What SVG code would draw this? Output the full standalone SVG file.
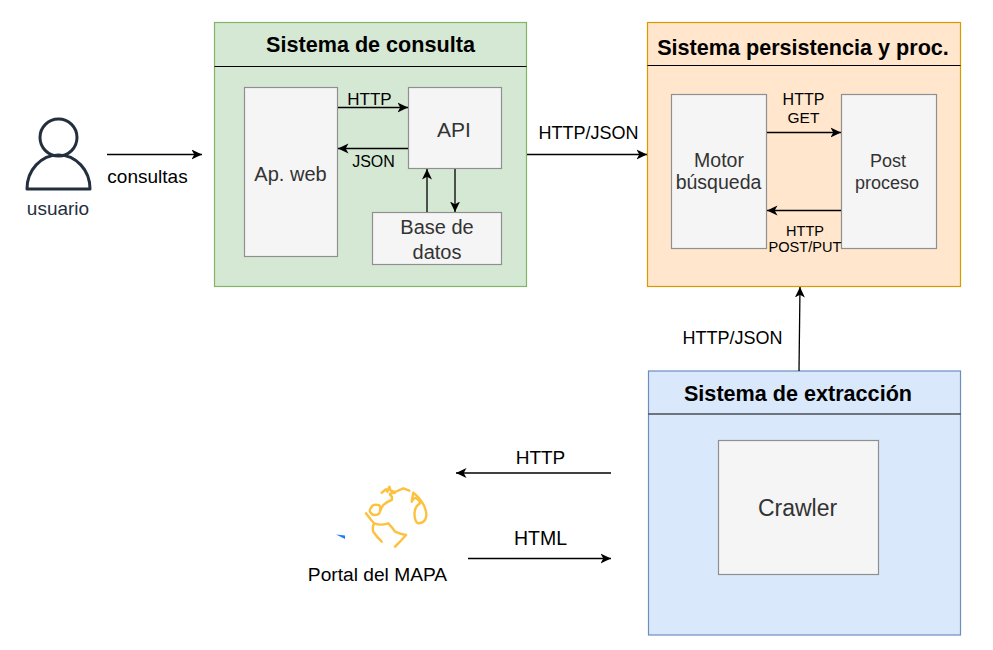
<svg xmlns="http://www.w3.org/2000/svg" width="993" height="650" viewBox="0 0 993 650">
<style>
text{font-family:"Liberation Sans",Arial,sans-serif;text-anchor:middle;fill:#000}
.t{font-size:21.600px;font-weight:bold}
.in{fill:#f5f5f5;stroke:#8f8f8f;stroke-width:1.2}
.g{fill:#333}
.c{fill:none;stroke:#000;stroke-width:1.3;marker-end:url(#a)}
.l{font-size:18px}
.s{font-size:16px}
.h{stroke:#000;stroke-width:1.2}
</style>
<defs><marker id="a" markerUnits="userSpaceOnUse" markerWidth="12" markerHeight="12" refX="10.500" refY="5.500" orient="auto"><path d="M0 0.500L10.500 5.500L0 10.500L2.800 5.500Z" fill="#000"/></marker></defs>
<rect width="993" height="650" fill="#fff"/>
<g id="usuario">
<circle cx="58.500" cy="137.500" r="18.500" fill="none" stroke="#232f3e" stroke-width="3"/>
<path d="M27 189C27 170 41 155 58.500 155C76 155 90 170 90 189Z" fill="none" stroke="#232f3e" stroke-width="3" stroke-linejoin="round"/>
<text x="58" y="215" font-size="19" style="fill:#232f3e">usuario</text>
</g>
<g id="sistema-consulta">
<rect x="214.500" y="22.500" width="312" height="264" fill="#d5e8d4" stroke="#82b366" stroke-width="1.200"/>
<line x1="214.500" y1="66.500" x2="526.500" y2="66.500" class="h"/>
<text x="370.500" y="52" class="t">Sistema de consulta</text>
</g>
<g id="ap-web"><rect x="244.500" y="87.500" width="93" height="169" class="in"/><text x="290.500" y="181" font-size="20" class="g">Ap. web</text></g>
<g id="api"><rect x="408.500" y="87.500" width="93" height="81" class="in"/><text x="454" y="137" font-size="21" class="g">API</text></g>
<g id="base-datos"><rect x="372.500" y="212.500" width="129" height="52" class="in"/><text x="437" y="234" font-size="20" class="g">Base de</text><text x="437" y="259" font-size="20" class="g">datos</text></g>
<g id="sistema-persistencia">
<rect x="647.500" y="22.500" width="313" height="264" fill="#ffe6cc" stroke="#d79b00" stroke-width="1.200"/>
<line x1="647.500" y1="65.500" x2="960.500" y2="65.500" class="h"/>
<text x="803" y="55" class="t">Sistema persistencia y proc.</text>
</g>
<g id="motor"><rect x="671.500" y="94.500" width="95" height="154" class="in"/><text x="719" y="167" font-size="19.500" class="g">Motor</text><text x="718.500" y="189" font-size="19.500" class="g">búsqueda</text></g>
<g id="post"><rect x="841.500" y="94.500" width="95" height="154" class="in"/><text x="888" y="167" font-size="18" class="g">Post</text><text x="887" y="189" font-size="18" class="g">proceso</text></g>
<g id="sistema-extraccion">
<rect x="648.500" y="371" width="312" height="264" fill="#dae8fc" stroke="#6c8ebf" stroke-width="1.200"/>
<line x1="648.500" y1="414" x2="960.500" y2="414" class="h"/>
<text x="798" y="401" class="t">Sistema de extracción</text>
</g>
<g id="crawler"><rect x="718.500" y="440.500" width="160" height="134" class="in"/><text x="797.500" y="516" font-size="23" class="g">Crawler</text></g>
<g id="portal">
<path d="M336 534.500L345 535.500L345 539Z" fill="#1a7fff"/>
<path d="M381.700 492.700L386 489.300L387.300 491.700L389.300 486.700L390.700 490.700L395 492L403.300 488.300L409.300 490.700M395 492.700Q389 493 390 494.500Q393 497 391.700 500Q386 502 383.300 505Q381 508 380 511.700Q381 505 378.300 505Q373 504 371.700 506.700Q369 510 370 511.700Q372 515 374 515Q378 515 379.300 513.300M366 513.300Q370 519 374 523.300Q381 526 388.300 523.300Q392 527 395 531.700Q400 534 406 535L400 541.700L395 546.700M374 523.300Q372 528 373.300 531.700Q377 537 381.700 541.700M413.300 492.700L411.700 501.700Q414 497 416 498.300Q420 500 420 503.300Q416 506 415 510Q414 514 415 518.300Q416 523 418.300 523.300Q423 523 425 520Q427 516 426 511.700Q425 506 421.700 501.700Q418 496 413.300 492.700" fill="none" stroke="#fcc13d" stroke-width="2.400" stroke-linecap="round" stroke-linejoin="round"/>
<text x="377.500" y="581" font-size="19.200">Portal del MAPA</text>
</g>
<g id="connectors">
<path class="c" d="M107 154.500H202"/>
<path class="c" d="M338 107.500H408"/>
<path class="c" d="M408 148.500H338"/>
<path class="c" d="M427 212V169"/>
<path class="c" d="M455 169V212"/>
<path class="c" d="M527 154.500H647"/>
<path class="c" d="M767 132.500H841"/>
<path class="c" d="M841 210.500H767"/>
<path class="c" d="M799 371L800 287"/>
<path class="c" d="M611 473H456"/>
<path class="c" d="M468 558.500H611"/>
</g>
<g id="labels">
<text x="147.500" y="183" class="l" style="font-size:19px">consultas</text>
<text x="369.500" y="105" style="font-size:17px">HTTP</text>
<text x="373.500" y="167" class="s">JSON</text>
<text x="588.500" y="139" class="l">HTTP/JSON</text>
<text x="803.500" y="105" class="s">HTTP</text>
<text x="803.500" y="123" class="s" style="font-size:15.500px">GET</text>
<text x="805" y="236" style="font-size:14.500px">HTTP</text>
<text x="805" y="252" style="font-size:14.600px">POST/PUT</text>
<text x="732.500" y="344" class="l">HTTP/JSON</text>
<text x="540.500" y="464" style="font-size:19px">HTTP</text>
<text x="540.500" y="545" style="font-size:19.500px">HTML</text>
</g>
</svg>
